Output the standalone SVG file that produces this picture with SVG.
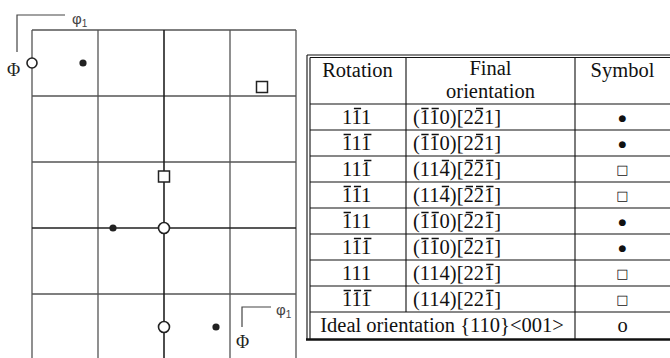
<svg xmlns="http://www.w3.org/2000/svg" width="670" height="358" viewBox="0 0 670 358">
<style>
.g{stroke:#555;stroke-width:1.3;fill:none}
.gd{stroke:#222;stroke-width:1.6;fill:none}
.ax{stroke:#444;stroke-width:1.2;fill:none}
.oc{fill:#fff;stroke:#222;stroke-width:1.6}
.dot{fill:#222}
.sq{fill:#fff;stroke:#222;stroke-width:1.5}
.phi{font-family:"Liberation Sans",Arial,sans-serif;font-size:15px;fill:#444}
.sub{font-family:"Liberation Sans",Arial,sans-serif;font-size:10px;fill:#444}
.PHI{font-family:"Liberation Serif","Times New Roman",serif;font-size:18px;fill:#222}
.t{font-family:"Liberation Serif","Times New Roman",serif;font-size:20.5px;fill:#111}
.c{text-anchor:middle}
.bul{font-family:"DejaVu Sans",sans-serif;font-size:9px;fill:#111;text-anchor:middle}
.sym{font-family:"DejaVu Sans",sans-serif;font-size:13px;fill:#111;text-anchor:middle}
.tl{stroke:#111;stroke-width:1.1;fill:none}
.ob{stroke:#111;stroke-width:1.4;fill:none}
</style>
<g id="grid">
<path class="g" d="M32 30V358M98 30V358M230 30V358M296 30V358M32 30H296M32 96H296M32 162H296M32 294H296"/>
<path class="gd" d="M164 30V358M32 228H296"/>
</g>
<g id="axis-top">
<path class="ax" d="M17 52V15H65"/>
<text class="phi" x="72" y="24">φ<tspan class="sub" dy="3">1</tspan></text>
<text class="PHI" x="7" y="76">Φ</text>
</g>
<g id="axis-bottom">
<path class="ax" d="M242 327V307H271"/>
<text class="phi" x="276" y="315">φ<tspan class="sub" dy="3">1</tspan></text>
<text class="PHI" x="236" y="348">Φ</text>
</g>
<g id="points">
<circle class="oc" cx="32" cy="63" r="5"/>
<circle class="dot" cx="83" cy="63" r="3.6"/>
<rect class="sq" x="256.5" y="81.5" width="11" height="11"/>
<rect class="sq" x="158.5" y="171" width="11" height="11"/>
<circle class="dot" cx="113" cy="228" r="3.6"/>
<circle class="oc" cx="164" cy="228" r="5.5"/>
<circle class="oc" cx="164" cy="327" r="5.5"/>
<circle class="dot" cx="216" cy="327" r="3.6"/>
</g>
<g id="table">
<path class="tl" d="M307 55V340M310 57.5V339M307 55H670M310 57.5H670"/>
<path class="tl" d="M406 57.5V312M575 57.5V339M310 104H670M310 130H670M310 156H670M310 182H670M310 208H670M310 234H670M310 260H670M310 286H670M310 312H670"/>
<path stroke="#111" stroke-width="2.6" d="M306 339.5H670"/>
<text class="t c" x="357.5" y="77">Rotation</text>
<text class="t c" x="490.5" y="75">Final</text>
<text class="t c" x="490.5" y="97.5">orientation</text>
<text class="t c" x="622.5" y="77">Symbol</text>
<g id="rows">
<text class="t" x="342.1" y="124">111</text>
<text class="t" x="342.1" y="150">111</text>
<text class="t" x="342.1" y="176">111</text>
<text class="t" x="342.1" y="202">111</text>
<text class="t" x="342.1" y="228">111</text>
<text class="t" x="342.1" y="254">111</text>
<text class="t" x="342.1" y="280">111</text>
<text class="t" x="342.1" y="306">111</text>
<text class="t" x="413" y="124">(110)[221]</text>
<text class="t" x="413" y="150">(110)[221]</text>
<text class="t" x="413" y="176">(114)[221]</text>
<text class="t" x="413" y="202">(114)[221]</text>
<text class="t" x="413" y="228">(110)[221]</text>
<text class="t" x="413" y="254">(110)[221]</text>
<text class="t" x="413" y="280">(114)[221]</text>
<text class="t" x="413" y="306">(114)[221]</text>
<text class="t c" x="442" y="332">Ideal orientation {110}&lt;001&gt;</text>
<text class="bul" x="622.5" y="120.5">●</text>
<text class="bul" x="622.5" y="146.5">●</text>
<text class="sym" x="622.5" y="174">□</text>
<text class="sym" x="622.5" y="200">□</text>
<text class="bul" x="622.5" y="224.5">●</text>
<text class="bul" x="622.5" y="250.5">●</text>
<text class="sym" x="622.5" y="278">□</text>
<text class="sym" x="622.5" y="304">□</text>
<text class="t c" x="622.5" y="332">o</text>
</g>
<path id="overbars" class="ob" d="M353.9 108.5H361.1M421.3 108.5H428.6M431.6 108.5H438.8M476 108.5H483.2
M343.6 134.5H350.9M364.1 134.5H371.4M421.3 134.5H428.6M431.6 134.5H438.8M476 134.5H483.2
M364.1 160.5H371.4M441.8 160.5H449.1M465.7 160.5H473M476 160.5H483.2M486.2 160.5H493.5
M343.6 186.5H350.9M353.9 186.5H361.1M441.8 186.5H449.1M465.7 186.5H473M476 186.5H483.2M486.2 186.5H493.5
M343.6 212.5H350.9M421.3 212.5H428.6M431.6 212.5H438.8M465.7 212.5H473M486.2 212.5H493.5
M353.9 238.5H361.1M364.1 238.5H371.4M421.3 238.5H428.6M431.6 238.5H438.8M465.7 238.5H473M486.2 238.5H493.5
M486.2 264.5H493.5
M343.6 290.5H350.9M353.9 290.5H361.1M364.1 290.5H371.4M486.2 290.5H493.5"/>
</g>
</svg>
